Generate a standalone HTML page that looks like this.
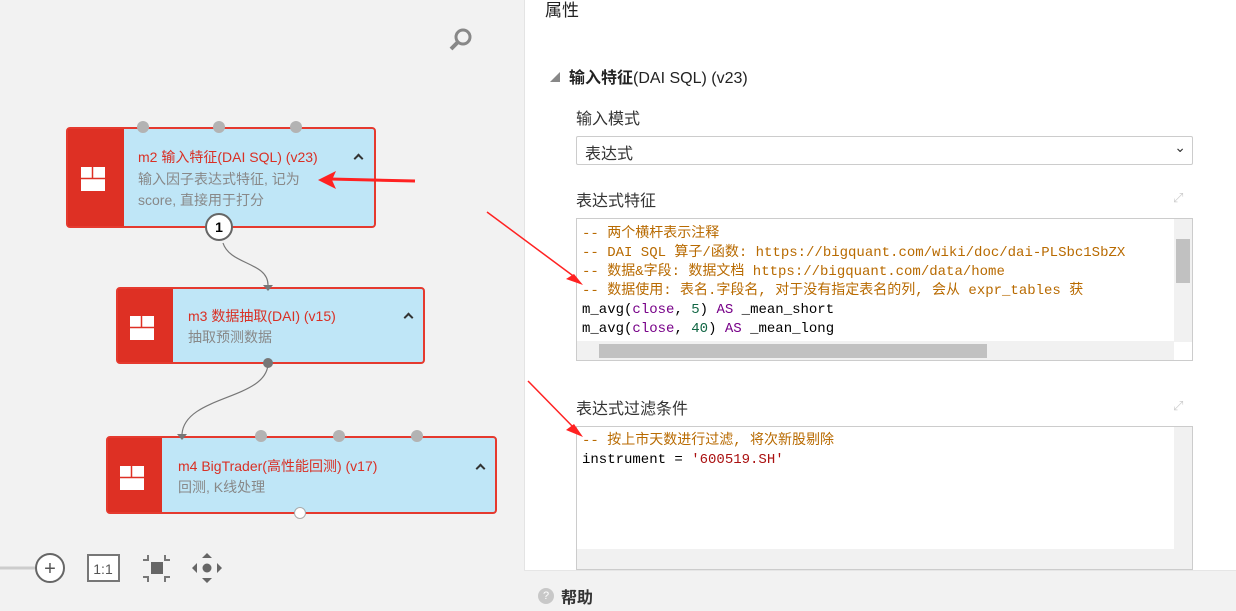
<!DOCTYPE html>
<html><head><meta charset="utf-8"><style>
*{box-sizing:border-box;margin:0;padding:0}
body{width:1236px;height:611px;overflow:hidden;background:#f2f2f2;font-family:"Liberation Sans","Noto Sans CJK SC",sans-serif;position:relative}
.a{position:absolute}
.node{position:absolute;background:#bfe6f7;border:2px solid #e53a2f;border-radius:4px}
.node .ic{position:absolute;left:0;top:0;bottom:0;background:#de3024}
.t{position:absolute;color:#d93025;font-size:14px;white-space:nowrap}
.d{position:absolute;color:#888;font-size:14px;white-space:nowrap;line-height:21px}
.chev{position:absolute;width:7px;height:7px;border-left:2.5px solid #333;border-top:2.5px solid #333;transform:rotate(45deg)}
.code{font-family:"Liberation Mono","Noto Sans CJK SC",monospace;font-size:14px;line-height:19px;white-space:pre}
.cm{color:#b86a00}
</style></head><body>
<div class="a" style="left:524px;top:0;width:712px;height:570px;background:#fff;border-left:1px solid #e4e4e4"></div>
<div class="a" style="left:524px;top:570px;width:712px;height:41px;background:#f2f2f2;border-top:1px solid #e6e6e6"></div>
<div class="a" style="left:545px;top:-4px;font-size:17px;color:#222">属性</div>
<div class="a" style="left:550px;top:69px;font-size:10px;color:#888">◢</div>
<div class="a" style="left:569px;top:64px;font-size:16px;color:#222;font-weight:bold">输入特征<span style="font-weight:normal">(DAI SQL) (v23)</span></div>
<div class="a" style="left:576px;top:105px;font-size:16px;color:#333">输入模式</div>
<div class="a" style="left:576px;top:136px;width:617px;height:29px;border:1px solid #ccc;border-radius:2px;font-size:16px;color:#333;padding:3px 8px">表达式<span style="position:absolute;right:6px;top:2px;font-size:14px">⌄</span></div>
<div class="a" style="left:576px;top:187px;font-size:16px;color:#333">表达式特征</div>
<div class="a" style="left:1173px;top:190px;font-size:13px;color:#ccc">⤢</div>
<div class="a" style="left:576px;top:218px;width:617px;height:143px;border:1px solid #ccc;overflow:hidden">
 <div class="code" style="position:absolute;left:5px;top:6px;width:590px;overflow:hidden"><span class="cm">-- 两个横杆表示注释
-- DAI SQL 算子/函数: https://bigquant.com/wiki/doc/dai-PLSbc1SbZX
-- 数据&amp;字段: 数据文档 https://bigquant.com/data/home
-- 数据使用: 表名.字段名, 对于没有指定表名的列, 会从 expr_tables 获</span>
m_avg(<span style="color:#708">close</span>, <span style="color:#164">5</span>) <span style="color:#708">AS</span> _mean_short
m_avg(<span style="color:#708">close</span>, <span style="color:#164">40</span>) <span style="color:#708">AS</span> _mean_long</div>
 <div class="a" style="right:0;top:0;width:18px;height:123px;background:#f1f1f1"><div class="a" style="left:2px;top:20px;width:14px;height:44px;background:#c1c1c1"></div></div>
 <div class="a" style="left:0;bottom:0;width:597px;height:19px;background:#f1f1f1"><div class="a" style="left:22px;top:3px;width:388px;height:14px;background:#c1c1c1"></div></div>
</div>
<div class="a" style="left:576px;top:395px;font-size:16px;color:#333">表达式过滤条件</div>
<div class="a" style="left:1173px;top:398px;font-size:13px;color:#ccc">⤢</div>
<div class="a" style="left:576px;top:426px;width:617px;height:144px;border:1px solid #ccc;overflow:hidden">
 <div class="code" style="position:absolute;left:5px;top:5px"><span class="cm">-- 按上市天数进行过滤, 将次新股剔除</span>
instrument = <span style="color:#a11">'600519.SH'</span></div>
 <div class="a" style="right:0;top:0;width:18px;height:124px;background:#f1f1f1"></div>
 <div class="a" style="left:0;bottom:0;width:617px;height:20px;background:#f1f1f1"></div>
</div>
<div class="a" style="left:538px;top:588px;width:16px;height:16px;border-radius:50%;background:#c8c8c8;color:#fff;font-size:11px;text-align:center;line-height:16px">?</div>
<div class="a" style="left:561px;top:584px;font-size:16px;font-weight:bold;color:#333">帮助</div>

<svg class="a" style="left:448px;top:26px" width="30" height="28"><circle cx="15" cy="11" r="7" fill="none" stroke="#888" stroke-width="3"/><line x1="10" y1="16" x2="3" y2="23" stroke="#888" stroke-width="4"/></svg>

<div class="node" style="left:66px;top:127px;width:310px;height:101px"><div class="ic" style="width:56px"></div></div>
<div class="t" style="left:138px;top:147px">m2 输入特征(DAI SQL) (v23)</div>
<div class="d" style="left:138px;top:169px">输入因子表达式特征, 记为<br>score, 直接用于打分</div>
<div class="chev" style="left:355px;top:155px"></div>
<div class="node" style="left:116px;top:287px;width:309px;height:77px"><div class="ic" style="width:55px"></div></div>
<div class="t" style="left:188px;top:306px">m3 数据抽取(DAI) (v15)</div>
<div class="d" style="left:188px;top:327px">抽取预测数据</div>
<div class="chev" style="left:405px;top:314px"></div>
<div class="node" style="left:106px;top:436px;width:391px;height:78px"><div class="ic" style="width:54px"></div></div>
<div class="t" style="left:178px;top:456px">m4 BigTrader(高性能回测) (v17)</div>
<div class="d" style="left:178px;top:477px">回测, K线处理</div>
<div class="chev" style="left:477px;top:465px"></div>

<svg class="a" style="left:0;top:0" width="524" height="611">
 <g fill="#fff">
  <rect x="81" y="167" width="24" height="24"/>
  <rect x="130" y="316" width="24" height="24"/>
  <rect x="120" y="466" width="24" height="24"/>
 </g>
 <g stroke="#de3024" stroke-width="1.5"><line x1="81" y1="178.5" x2="105" y2="178.5"/><line x1="92.5" y1="167" x2="92.5" y2="178"/><line x1="130" y1="327.5" x2="154" y2="327.5"/><line x1="141.5" y1="316" x2="141.5" y2="327"/><line x1="120" y1="477.5" x2="144" y2="477.5"/><line x1="131.5" y1="466" x2="131.5" y2="477"/></g>
 <g fill="#b3b3b3"><circle cx="143" cy="127" r="6"/><circle cx="219" cy="127" r="6"/><circle cx="296" cy="127" r="6"/><circle cx="261" cy="436" r="6"/><circle cx="339" cy="436" r="6"/><circle cx="417" cy="436" r="6"/></g>
 <path d="M223 243 C230 265,268 262,268 285" fill="none" stroke="#777" stroke-width="1.2"/>
 <path d="M268 363 C268 400,185 395,182 434" fill="none" stroke="#777" stroke-width="1.2"/>
 <path d="M263 285 L273 285 L268 291Z M177 434 L187 434 L182 440Z" fill="#777"/>
 <circle cx="268" cy="363" r="5" fill="#777"/>
 <circle cx="300" cy="513" r="5.5" fill="#fff" stroke="#aaa"/>
 <circle cx="219" cy="227" r="13" fill="#fff" stroke="#666" stroke-width="2"/>
 <text x="219" y="232" text-anchor="middle" font-size="14" font-weight="bold" font-family="Liberation Sans">1</text>
 <path d="M415 181 L330 179" stroke="#f22" stroke-width="3"/>
 <path d="M318 180 L336 171 L332 180 L336 189Z" fill="#f22"/>
 <line x1="0" y1="568" x2="35" y2="568" stroke="#ccc" stroke-width="3"/>
 <circle cx="50" cy="568" r="14" fill="#fff" stroke="#666" stroke-width="2"/>
 <text x="50" y="575" text-anchor="middle" font-size="20" fill="#555" font-family="Liberation Sans">+</text>
 <rect x="88" y="555" width="31" height="26" fill="#fff" stroke="#777" stroke-width="2"/>
 <text x="103" y="574" text-anchor="middle" font-size="14" fill="#555" font-family="Liberation Sans">1:1</text>
 <rect x="151" y="562" width="12" height="12" fill="#666"/>
 <path d="M148 555v5h-5 M165 555v5h5 M148 582v-5h-5 M165 582v-5h5" stroke="#777" stroke-width="2" fill="none"/>
 <circle cx="207" cy="568" r="4.5" fill="#666"/>
 <path d="M202 558h10l-5-5z M202 578h10l-5 5z M197 563v10l-5-5z M217 563v10l5-5z" fill="#666"/>
</svg>
<svg class="a" style="left:480px;top:200px" width="110" height="250">
 <path d="M7 12 L96 78" stroke="#f22" stroke-width="1.5"/>
 <path d="M103 85 L86 79 L94 74Z" fill="#f22"/>
 <path d="M48 181 L96 230" stroke="#f22" stroke-width="1.5"/>
 <path d="M103 237 L86 230 L94 224Z" fill="#f22"/>
</svg>
</body></html>
